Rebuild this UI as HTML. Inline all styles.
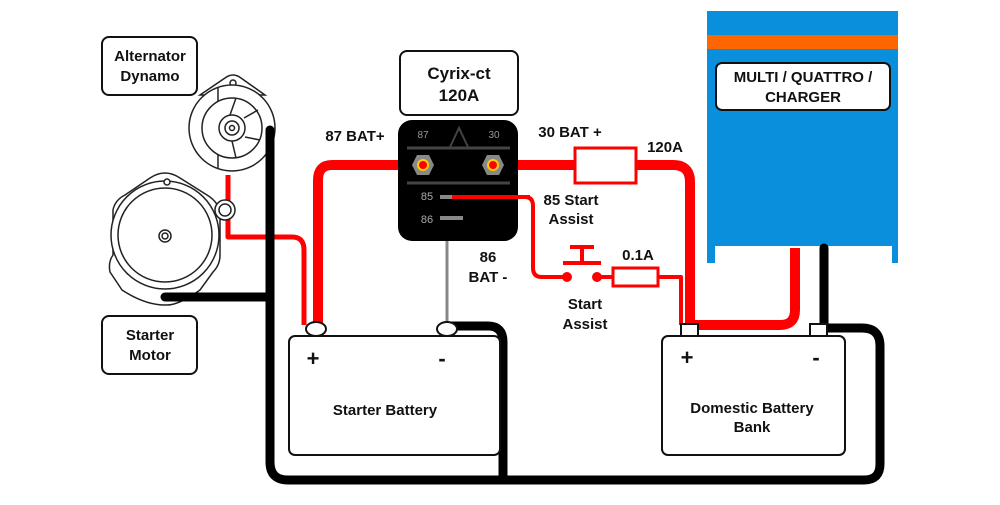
<!DOCTYPE html>
<html><head><style>
body{margin:0;background:#fff;}
svg text{font-family:"Liberation Sans",Arial,sans-serif;font-weight:bold;fill:#111;}
</style></head><body>
<svg width="1000" height="500" viewBox="0 0 1000 500" xmlns="http://www.w3.org/2000/svg">
<!-- inverter -->
<rect x="707" y="11" width="191" height="252" fill="#0a8fdc"/>
<rect x="715" y="246" width="177" height="20" fill="#fff"/>
<rect x="707" y="35" width="191" height="14" fill="#ff6600"/>
<rect x="716" y="63" width="174" height="47" rx="6" fill="#fff" stroke="#111" stroke-width="2"/>
<text x="803" y="82" font-size="15" text-anchor="middle">MULTI / QUATTRO /</text>
<text x="803" y="102" font-size="15" text-anchor="middle">CHARGER</text>

<!-- black cables -->
<g fill="none" stroke="#000" stroke-linecap="round" stroke-linejoin="round">
<path d="M270 130 V462 Q270 480 288 480 H864 Q880 480 880 464 V346 Q880 328 862 328 H822" stroke-width="9"/>
<path d="M165 297 H270" stroke-width="9"/>
<path d="M450 326 H488 Q503 326 503 342 V478" stroke-width="9"/>
<path d="M824 248 V328" stroke-width="9"/>
</g>
<!-- red cables -->
<g fill="none" stroke="#f00" stroke-linejoin="round">
<path d="M228 175 V237 H292 Q304 237 304 250 V325" stroke-width="5"/>
<path d="M422 165 H332 Q318 165 318 180 V325" stroke-width="10"/>
<path d="M493 165 H673 Q690 165 690 182 V325" stroke-width="10"/>
<path d="M795 248 V310 Q795 325 780 325 H692" stroke-width="10"/>
<path d="M450 197 H525 Q533 197 533 206 V268 Q533 277 542 277 H567" stroke-width="4"/>
<path d="M597 277 H613 M658 277 H681 V325" stroke-width="4"/>
<path d="M563 263 H601 M582 263 V247 M570 247 H594" stroke-width="4"/>
</g>
<circle cx="567" cy="277" r="5" fill="#f00"/>
<circle cx="597" cy="277" r="5" fill="#f00"/>
<rect x="575" y="148" width="61" height="35" fill="#fff" stroke="#f00" stroke-width="3"/>
<path d="M514 165 H575 M636 165 H673" stroke="#f00" stroke-width="10"/>
<rect x="613" y="268" width="45" height="18" fill="#fff" stroke="#f00" stroke-width="3"/>
<!-- gray 86 -->
<line x1="447" y1="218" x2="447" y2="325" stroke="#888" stroke-width="3"/>

<!-- relay -->
<rect x="400" y="51" width="118" height="64" rx="7" fill="#fff" stroke="#111" stroke-width="2"/>
<text x="459" y="79" font-size="17" text-anchor="middle">Cyrix-ct</text>
<text x="459" y="101" font-size="17" text-anchor="middle">120A</text>
<rect x="398" y="120" width="120" height="121" rx="14" fill="#000"/>
<text x="423" y="138" font-size="10" style="font-weight:normal;fill:#999" text-anchor="middle">87</text>
<text x="494" y="138" font-size="10" style="font-weight:normal;fill:#999" text-anchor="middle">30</text>
<line x1="407" y1="148" x2="510" y2="148" stroke="#444" stroke-width="3"/>
<line x1="407" y1="183" x2="510" y2="183" stroke="#444" stroke-width="3"/>
<path d="M450 147 L459 128 L468 147" fill="none" stroke="#444" stroke-width="2"/>
<polygon points="412,165 417,155 429,155 434,165 429,175 417,175" fill="#888"/>
<polygon points="482,165 487,155 499,155 504,165 499,175 487,175" fill="#888"/>
<circle cx="423" cy="165" r="5" fill="#f00" stroke="#fc0" stroke-width="2"/>
<circle cx="493" cy="165" r="5" fill="#f00" stroke="#fc0" stroke-width="2"/>
<text x="427" y="200" font-size="11" style="font-weight:normal;fill:#aaa" text-anchor="middle">85</text>
<text x="427" y="223" font-size="11" style="font-weight:normal;fill:#aaa" text-anchor="middle">86</text>
<line x1="440" y1="197" x2="452" y2="197" stroke="#888" stroke-width="4"/>
<line x1="452" y1="197" x2="530" y2="197" stroke="#f00" stroke-width="4"/>
<line x1="440" y1="218" x2="463" y2="218" stroke="#888" stroke-width="4"/>

<!-- labels -->
<text x="355" y="141" font-size="15" text-anchor="middle">87 BAT+</text>
<text x="570" y="137" font-size="15" text-anchor="middle">30 BAT +</text>
<text x="665" y="152" font-size="15" text-anchor="middle">120A</text>
<text x="571" y="205" font-size="15" text-anchor="middle">85 Start</text>
<text x="571" y="224" font-size="15" text-anchor="middle">Assist</text>
<text x="488" y="262" font-size="15" text-anchor="middle">86</text>
<text x="488" y="282" font-size="15" text-anchor="middle">BAT -</text>
<text x="638" y="260" font-size="15" text-anchor="middle">0.1A</text>
<text x="585" y="309" font-size="15" text-anchor="middle">Start</text>
<text x="585" y="329" font-size="15" text-anchor="middle">Assist</text>

<!-- alternator & starter -->
<g fill="#fff" stroke="#222" stroke-width="1.5">
<path d="M122 290 L110 272 Q108 262 113 255 L113 210 Q115 200 125 195 L150 178 Q165 168 180 178 L207 195 Q220 203 220 215 L220 255 Q220 265 213 272 L200 290 Q178 306 165 305 Q145 305 122 290 Z"/>
<circle cx="165" cy="235" r="54"/>
<circle cx="165" cy="235" r="47"/>
<circle cx="165" cy="236" r="6"/><circle cx="165" cy="236" r="3"/>
<circle cx="167" cy="182" r="3"/>
<circle cx="225" cy="210" r="10"/><circle cx="225" cy="210" r="6"/>
<path d="M200 95 L225 78 Q233 72 241 78 L265 95 Z"/>
<circle cx="233" cy="83" r="3"/>
<circle cx="232" cy="128" r="43"/>
<line x1="218" y1="88" x2="218" y2="168"/>
<circle cx="232" cy="128" r="30"/>
<circle cx="232" cy="128" r="13"/><circle cx="232" cy="128" r="7"/><circle cx="232" cy="128" r="2.5"/>
<path d="M244 118 L258 110 M245 137 L260 140 M232 141 L236 158 M230 115 L236 98"/>
</g>
<rect x="102" y="37" width="95" height="58" rx="7" fill="#fff" stroke="#111" stroke-width="2"/>
<text x="150" y="61" font-size="15" text-anchor="middle">Alternator</text>
<text x="150" y="81" font-size="15" text-anchor="middle">Dynamo</text>
<rect x="102" y="316" width="95" height="58" rx="7" fill="#fff" stroke="#111" stroke-width="2"/>
<text x="150" y="340" font-size="15" text-anchor="middle">Starter</text>
<text x="150" y="360" font-size="15" text-anchor="middle">Motor</text>
<path d="M270 130 V300" stroke="#000" stroke-width="9" stroke-linecap="round"/>
<path d="M165 297 H270" stroke="#000" stroke-width="9" stroke-linecap="round"/>

<!-- batteries -->
<ellipse cx="316" cy="329" rx="10" ry="7" fill="#fff" stroke="#111" stroke-width="2"/>
<ellipse cx="447" cy="329" rx="10" ry="7" fill="#fff" stroke="#111" stroke-width="2"/>
<rect x="289" y="336" width="211" height="119" rx="6" fill="#fff" stroke="#111" stroke-width="2"/>
<text x="313" y="366" font-size="22" text-anchor="middle">+</text>
<text x="442" y="366" font-size="22" text-anchor="middle">-</text>
<text x="385" y="415" font-size="15" text-anchor="middle">Starter Battery</text>
<rect x="681" y="324" width="17" height="12" fill="#fff" stroke="#111" stroke-width="2"/>
<rect x="810" y="324" width="17" height="12" fill="#fff" stroke="#111" stroke-width="2"/>
<rect x="662" y="336" width="183" height="119" rx="6" fill="#fff" stroke="#111" stroke-width="2"/>
<text x="687" y="365" font-size="22" text-anchor="middle">+</text>
<text x="816" y="365" font-size="22" text-anchor="middle">-</text>
<text x="752" y="413" font-size="15" text-anchor="middle">Domestic Battery</text>
<text x="752" y="432" font-size="15" text-anchor="middle">Bank</text>
</svg>
</body></html>
